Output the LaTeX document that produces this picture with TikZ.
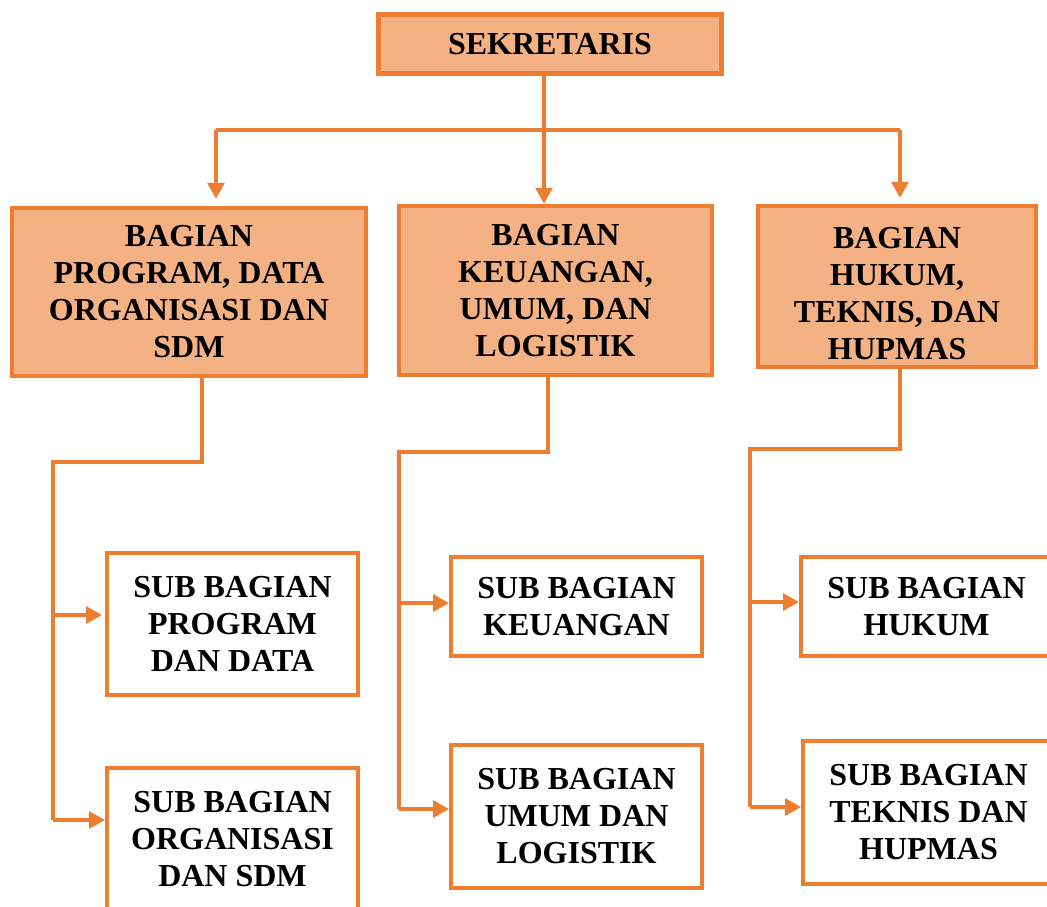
\documentclass[tikz,border=0pt]{standalone}
\usepackage{fontspec}
\setmainfont{Liberation Serif}
\usepackage{xcolor}
\usepackage{tikz}
\usetikzlibrary{positioning, calc, arrows.meta}

\definecolor{orgline}{HTML}{ED7D31}
\definecolor{orgfill}{HTML}{F4B183}

\tikzset{
    boxtext/.style={font=\fontsize{32}{37}\selectfont\bfseries, align=center, inner sep=0pt},
    bagian/.style={boxtext, rectangle, draw=orgline, fill=orgfill, line width=4.5pt},
    subbag/.style={boxtext, rectangle, draw=orgline, fill=white, line width=4pt, minimum width=251pt},
    link/.style={draw=orgline, line width=3.5pt},
}

\begin{document}
\begin{tikzpicture}[x=1pt, y=-1pt, >={Triangle[length=16pt, width=17pt]}]

    % --- Frame ---
    \useasboundingbox (0,0) rectangle (1047,906);
    \clip (0,0) rectangle (1047,906);

    % --- Top level ---
    \node[bagian, minimum width=343pt, minimum height=59pt] (sek) at (550,44) {SEKRETARIS};

    % --- Bagian ---
    \node[bagian, minimum width=354pt, minimum height=168pt] (bagA) at (189,292)
        {BAGIAN\\PROGRAM, DATA\\ORGANISASI DAN\\SDM};
    \node[bagian, minimum width=313pt, minimum height=169pt] (bagB) at (555.5,290.5)
        {BAGIAN\\KEUANGAN,\\UMUM, DAN\\LOGISTIK};
    \node[bagian, minimum width=278pt, minimum height=161pt] (bagC) at (897,286.5)
        {\rule{0pt}{35pt}BAGIAN\\HUKUM,\\TEKNIS, DAN\\HUPMAS};

    % --- Sub bagian ---
    \node[subbag, minimum height=142pt] (subA1) at (232.5,624) {SUB BAGIAN\\PROGRAM\\DAN DATA};
    \node[subbag, minimum height=142pt] (subA2) at (232.5,839) {SUB BAGIAN\\ORGANISASI\\DAN SDM};
    \node[subbag, minimum height=99pt]  (subB1) at (576.5,606.5) {SUB BAGIAN\\KEUANGAN};
    \node[subbag, minimum height=143pt] (subB2) at (576.5,816.5) {SUB BAGIAN\\UMUM DAN\\LOGISTIK};
    \node[subbag, minimum height=99pt]  (subC1) at (926.5,606.5) {SUB BAGIAN\\HUKUM};
    \node[subbag, minimum height=143pt] (subC2) at (928.5,812.5) {SUB BAGIAN\\TEKNIS DAN\\HUPMAS};

    % --- Bus under SEKRETARIS ---
    \coordinate (busL) at (216,130);
    \coordinate (busR) at (900,130);
    \draw[link] (busL) -- (busR);
    \draw[link, ->, shorten >=7pt] (busL) -- (busL |- bagA.north);
    \draw[link, ->, shorten >=6pt] (busR) -- (busR |- bagC.north);
    \draw[link, ->] ([xshift=-6pt]sek.south) -- ([xshift=-6pt]sek.south |- bagB.north);

    % --- Branch A ---
    \coordinate (jA1) at (53,615);
    \coordinate (jA2) at (53,820);
    \draw[link] ([xshift=13pt]bagA.south) |- (53,462) -- (jA2);
    \draw[link, ->, shorten >=3pt] (jA1) -- (jA1 -| subA1.west);
    \draw[link, ->] (jA2) -- (jA2 -| subA2.west);

    % --- Branch B ---
    \coordinate (jB1) at (399,603);
    \coordinate (jB2) at (399,809);
    \draw[link] ([xshift=-7.5pt]bagB.south) |- (399,452) -- (jB2);
    \draw[link, ->] (jB1) -- (jB1 -| subB1.west);
    \draw[link, ->] (jB2) -- (jB2 -| subB2.west);

    % --- Branch C ---
    \coordinate (jC1) at (750,602);
    \coordinate (jC2) at (750,807);
    \draw[link] ([xshift=3pt]bagC.south) |- (750,449) -- (jC2);
    \draw[link, ->] (jC1) -- (jC1 -| subC1.west);
    \draw[link, ->] (jC2) -- (jC2 -| subC2.west);

\end{tikzpicture}
\end{document}
